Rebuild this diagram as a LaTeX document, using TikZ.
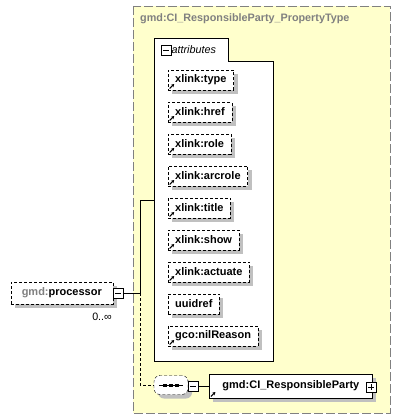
\documentclass[tikz,border=0pt]{standalone}
\usepackage{fontspec}
\setmainfont{Liberation Sans}
\usetikzlibrary{calc,arrows.meta,positioning,shadows,shapes.misc}
\definecolor{xsdyellow}{HTML}{FFFFCC}
\definecolor{xsdgray}{HTML}{808080}
\definecolor{xsdshadow}{HTML}{C0C0C0}

\begin{document}
\begin{tikzpicture}[
    x=1pt, y=-1pt,
    font=\fontsize{10.7}{12}\selectfont,
    >=Latex,
    shd/.style={general shadow={shadow xshift=4pt, shadow yshift=-4pt, fill=xsdshadow}},
    attr/.style={draw, dash pattern=on 3pt off 2pt, fill=white, shd, anchor=west,
                 font=\fontsize{11}{12}\selectfont\bfseries,
                 minimum height=20pt, inner xsep=7pt, inner ysep=0pt},
    refarrow/.style={path picture={
        \draw[solid, line width=1pt, -{Stealth[length=3pt,width=3.5pt]}]
          ([shift={(1.5pt,1.5pt)}]path picture bounding box.south west) -- ++(4.5pt,4.5pt);}},
    tgl/.style={draw, solid, fill=white, line width=0.8pt, minimum size=10pt, inner sep=0pt},
    minusbox/.style={tgl, path picture={
        \draw ([xshift=2pt]path picture bounding box.west) -- ([xshift=-2pt]path picture bounding box.east);}},
    plusbox/.style={tgl, path picture={
        \draw ([xshift=2pt]path picture bounding box.west) -- ([xshift=-2pt]path picture bounding box.east);
        \draw ([yshift=-2pt]path picture bounding box.north) -- ([yshift=2pt]path picture bounding box.south);}}
  ]
  \useasboundingbox (0,0) rectangle (407,420);

  % Complex type (yellow dashed frame)
  \draw[draw=xsdgray, fill=xsdyellow, line width=0.8pt, dash pattern=on 9pt off 3pt] (133,6) rectangle (390,413);
  \node[anchor=west, text=xsdgray, font=\fontsize{10.8}{12}\selectfont\bfseries, inner sep=0pt] (ptype) at (140,19) {gmd:CI\_ResponsibleParty\_PropertyType};

  % Attribute group (white box with tab)
  \draw[fill=white, line width=0.8pt] (154,38) -- (228,38) -- (228,61) -- (273,61) -- (273,361) -- (154,361) -- cycle;
  \node[minusbox] (attrmin) at (166,50) {};
  \node[anchor=west, font=\fontsize{10.8}{12}\selectfont\itshape, inner sep=0pt] (attrlbl) at (attrmin.east) {attributes};
  \coordinate (attrin) at (154,200);

  % Attributes
  \node[attr, refarrow] (type)    at (168,80)  {xlink:type};
  \node[attr, refarrow] (href)    at (168,112) {xlink:href};
  \node[attr, refarrow] (role)    at (168,144) {xlink:role};
  \node[attr, refarrow] (arcrole) at (168,176) {xlink:arcrole};
  \node[attr, refarrow] (title)   at (168,208) {xlink:title};
  \node[attr, refarrow] (show)    at (168,240) {xlink:show};
  \node[attr, refarrow] (actuate) at (168,272) {xlink:actuate};
  \node[attr]           (uuidref) at (168,304) {uuidref};
  \node[attr, refarrow] (nil)     at (168,336) {gco:nilReason};

  % Element gmd:processor (left)
  \node[draw, dash pattern=on 3pt off 2pt, fill=white, shd, anchor=east,
        minimum width=102pt, minimum height=22pt, inner sep=0pt,
        font=\fontsize{11}{12}\selectfont\bfseries] (proc) at (113,293) {\textcolor{xsdgray}{gmd:}processor};
  \node[minusbox] (procmin) at (118,293) {};
  \node[anchor=north east, inner sep=0pt] (card) at (112,313) {0..∞};

  % Sequence compositor
  \node[draw, dash pattern=on 3pt off 2pt, rounded corners=6pt,
        fill=white, shd, minimum width=34pt, minimum height=19pt, inner sep=0pt] (seq) at (171,385) {};
  \draw[line width=0.8pt] ($(seq.center)+(-12,0)$) -- ($(seq.center)+(12,0)$);
  \foreach \dx in {-6,0,6}
    \fill ($(seq.center)+(\dx-2,-1.5)$) rectangle ++(4,3);
  \node[minusbox] (seqmin) at (193,386) {};

  % Element gmd:CI_ResponsibleParty
  \node[draw, fill=white, shd, refarrow, anchor=west, line width=0.8pt,
        minimum width=163pt, minimum height=24pt, inner sep=0pt,
        font=\fontsize{11}{12}\selectfont\bfseries] (party) at (209,386) {gmd:CI\_ResponsibleParty\hspace{6pt}};
  \node[plusbox] (partyplus) at (371,387) {};

  % Connectors
  \coordinate (trunk) at (140,293);
  \draw (procmin.east) -- (trunk) |- (attrin);
  \draw[dash pattern=on 3pt off 2pt] (trunk) |- (seq.west);
  \draw (seqmin.east) -- (party.west);

\end{tikzpicture}
\end{document}
